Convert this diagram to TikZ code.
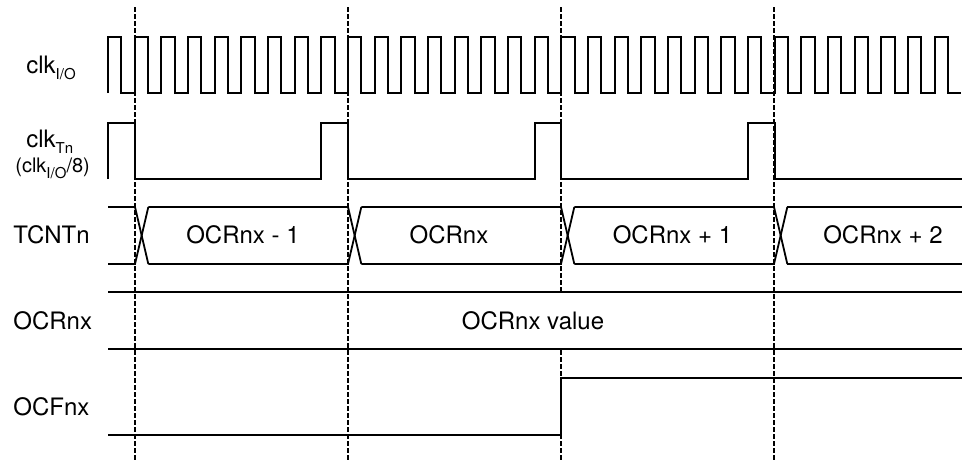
\documentclass[tikz,border=0pt]{standalone}
\usepackage{fontspec}
\setmainfont{TeX Gyre Heros}

\tikzset{
  wave/.style={line width=0.9pt},
  guide/.style={line width=0.6pt, dash pattern=on 2.5pt off 1pt},
  sig/.style={inner sep=0pt, font=\fontsize{12}{14}\selectfont},
  val/.style={inner sep=0pt, font=\fontsize{12}{14}\selectfont}
}
\newcommand{\lowtxt}[1]{\raisebox{-3pt}{\fontsize{7.5}{9}\selectfont #1}}

\begin{document}
\begin{tikzpicture}[x=0.5pt,y=-0.5pt]
\useasboundingbox (0,0) rectangle (966,461);

\def\hp{13.333}
\def\per{26.667}

\foreach \i/\x in {1/135,2/348,3/561,4/774} {
  \coordinate (t\i) at (\x,7);
  \coordinate (b\i) at (\x,461);
  \draw[guide] (t\i) -- (b\i);
}

\node[sig,anchor=base west] (lclkio) at (26,73) {clk\lowtxt{I/O}};
\node[sig,anchor=base west] (lclktn) at (26,147) {clk\lowtxt{Tn}};
\node[sig,anchor=base west,font=\fontsize{10}{12}\selectfont] (lclkdiv) at (15,172.5) {(clk\lowtxt{I/O}/8)};
\node[sig,anchor=west] (ltcnt) at (13,235) {TCNTn};
\node[sig,anchor=west] (locr) at (13,321) {OCRnx};
\node[sig,anchor=west] (locf) at (13,407) {OCFnx};

\draw[wave] (108,93) \foreach \k in {0,...,31} { -- ++(0,-56) -- ++(\hp,0) -- ++(0,56) -- ++(\hp,0) };

\draw[wave] (108,179) -- (108,123) -- (135,123) -- (135,179)
  \foreach \j in {1,2,3} { -- ({108+8*\j*\per},179) -- ++(0,-56) -- ++(\per,0) -- ++(0,56) } -- (962,179);

\draw[wave] (108,207) -- (135,207) -- ++(\hp,57);
\draw[wave] (108,264) -- (135,264) -- ++(\hp,-57);
\foreach \s/\e in {148.3/348,361.3/561,574.3/774} {
  \draw[wave] (\s,207) -- (\e,207) -- ++(\hp,57);
  \draw[wave] (\s,264) -- (\e,264) -- ++(\hp,-57);
}
\draw[wave] (787.3,207) -- (962,207);
\draw[wave] (787.3,264) -- (962,264);

\def\cnt{1/243/{OCRnx - 1},2/449/{OCRnx},3/672.5/{OCRnx + 1},4/883/{OCRnx + 2}}
\foreach \i/\x/\txt in \cnt
  \node[val] (v\i) at (\x,235) {\txt};

\node[val,fill=white,inner xsep=2pt,minimum height=28pt] (vocr) at (533,320.5) {OCRnx value};
\draw[wave] (108,292) -- (962,292);
\draw[wave] (108,349) -- (962,349);

\draw[wave] (108,435) -- (561,435) -- (561,378) -- (962,378);

\end{tikzpicture}
\end{document}
